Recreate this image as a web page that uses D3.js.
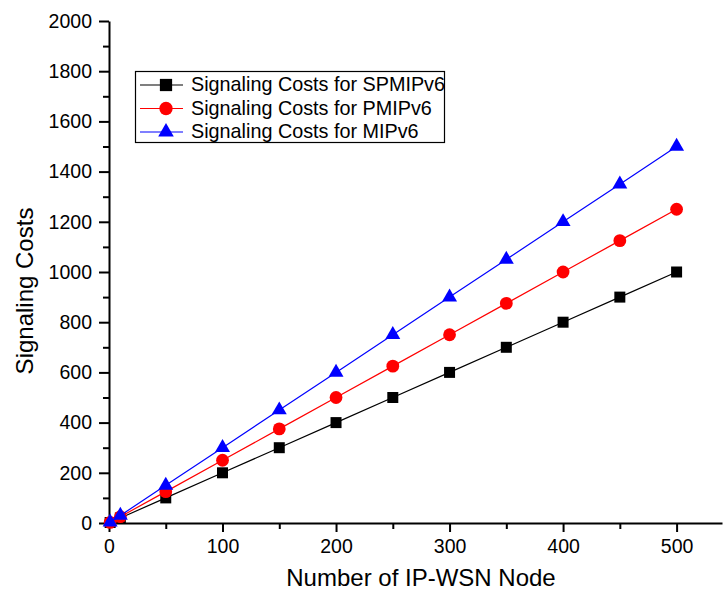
<!DOCTYPE html>
<html><head><meta charset="utf-8">
<script src="https://cdn.jsdelivr.net/npm/d3@7"></script>
<style>body{margin:0;background:#fff}svg{display:block}text{font-family:"Liberation Sans",Arial,sans-serif}</style>
</head><body><svg id="c" width="723" height="593"></svg>
<script>
const nodes = [1, 10, 50, 100, 150, 200, 250, 300, 350, 400, 450, 500];
const spmipv6 = [2, 20, 100, 200, 300, 400, 500, 600, 700, 800, 900, 1000];
const pmipv6 = [2.5, 25, 125, 250, 375, 500, 625, 750, 875, 1000, 1125, 1250];
const mipv6 = [3, 30, 150, 300, 450, 600, 750, 900, 1050, 1200, 1350, 1500];
const seriesNames = ["Signaling Costs for SPMIPv6", "Signaling Costs for PMIPv6", "Signaling Costs for MIPv6"];
const xTicks = [0, 100, 200, 300, 400, 500];
const yTicks = [0, 200, 400, 600, 800, 1000, 1200, 1400, 1600, 1800, 2000];

const svg = d3.select("#c");
const L = 109, R = 722, T = 21, B = 523;
const x = d3.scaleLinear().domain([0, 540]).range([L, R]);
const y = d3.scaleLinear().domain([0, 2000]).range([B, T]);

// minor ticks
svg.append("g").attr("transform", `translate(0,${B})`)
  .call(d3.axisBottom(x).tickValues(d3.range(50, 540, 100)).tickSize(6).tickFormat(""))
  .call(g => g.select(".domain").remove());
svg.append("g").attr("transform", `translate(${L},0)`)
  .call(d3.axisLeft(y).tickValues(d3.range(100, 2000, 200)).tickSize(6).tickFormat(""))
  .call(g => g.select(".domain").remove());

const xa = svg.append("g").attr("transform", `translate(0,${B})`)
  .call(d3.axisBottom(x).tickValues(xTicks).tickFormat(d3.format("d")).tickSize(9).tickSizeOuter(0).tickPadding(7));
const ya = svg.append("g").attr("transform", `translate(${L},0)`)
  .call(d3.axisLeft(y).tickValues(yTicks).tickFormat(d3.format("d")).tickSize(10).tickSizeOuter(0).tickPadding(7));
[xa, ya].forEach(a => {
  a.selectAll("text").attr("font-size", 19.5).attr("font-family", "Liberation Sans, Arial, sans-serif").attr("fill", "#000");
  a.select(".domain").attr("stroke-width", 2);
});
svg.selectAll(".tick line").attr("stroke-width", 2).attr("stroke", "#000");

svg.append("text").attr("x", 421).attr("y", 586).attr("text-anchor", "middle")
  .attr("font-size", 24).text("Number of IP-WSN Node");
svg.append("text").attr("transform", `translate(33,291) rotate(-90)`).attr("text-anchor", "middle")
  .attr("font-size", 24).text("Signaling Costs");

const series = [
  {vals: spmipv6, color: "#000000", shape: d3.symbolSquare, size: 121, lsize: 150},
  {vals: pmipv6, color: "#ff0000", shape: d3.symbolCircle, size: 128, lsize: 140},
  {vals: mipv6, color: "#0000ff", shape: d3.symbolTriangle, size: 97, lsize: 105},
];
const line = d3.line().x(d => x(d[0])).y(d => y(d[1]));
series.forEach(s => {
  const pts = nodes.map((n, i) => [n, s.vals[i]]);
  svg.append("path").attr("d", line(pts)).attr("fill", "none").attr("stroke", s.color).attr("stroke-width", 1.2);
  svg.append("g").selectAll("path").data(pts).join("path")
    .attr("transform", d => `translate(${x(d[0])},${y(d[1])})`)
    .attr("d", d3.symbol(s.shape, s.size)).attr("fill", s.color);
});

// legend
const lg = svg.append("g");
lg.append("rect").attr("x", 135.5).attr("y", 71.5).attr("width", 309).attr("height", 71)
  .attr("fill", "#fff").attr("stroke", "#000").attr("stroke-width", 1.2);
const rowY = [85, 108.5, 132];
series.forEach((s, i) => {
  const cy = rowY[i];
  lg.append("line").attr("x1", 140).attr("x2", 183).attr("y1", cy).attr("y2", cy).attr("stroke", s.color).attr("stroke-width", 1.2);
  lg.append("path").attr("transform", `translate(166,${cy})`).attr("d", d3.symbol(s.shape, s.lsize)).attr("fill", s.color);
  lg.append("text").attr("x", 191).attr("y", cy + 6).attr("font-size", 19.8).text(seriesNames[i]);
});
</script></body></html>
